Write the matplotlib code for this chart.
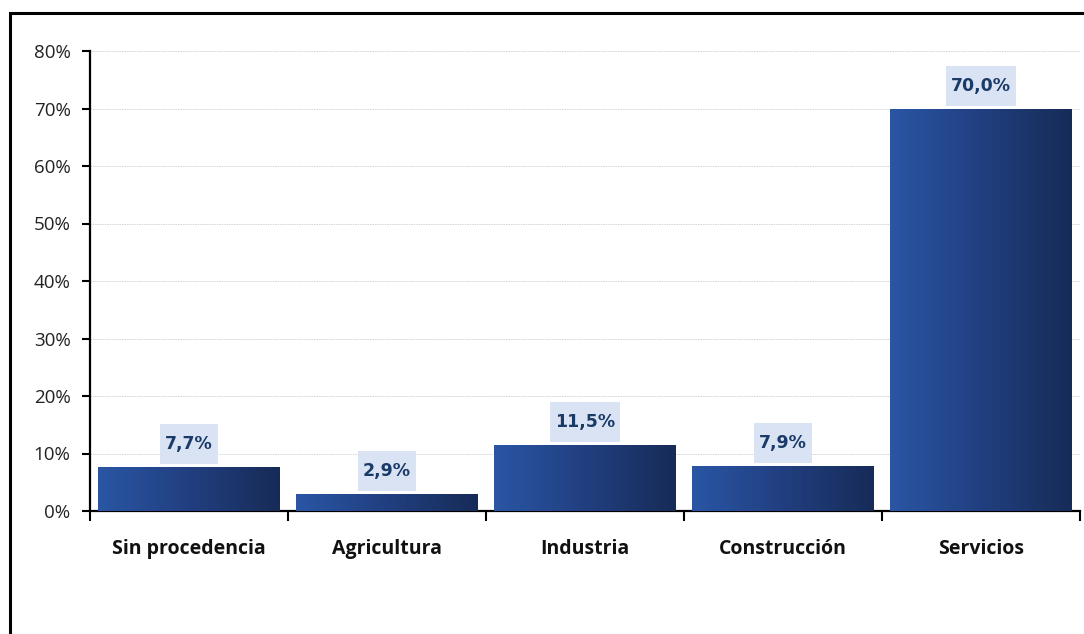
import matplotlib
matplotlib.use("Agg")
import matplotlib.pyplot as plt
import numpy as np
from matplotlib.patches import Rectangle
from matplotlib.colors import LinearSegmentedColormap
from matplotlib.transforms import IdentityTransform

categories = ["Sin procedencia", "Agricultura", "Industria", "Construcción", "Servicios"]
values = [7.7, 2.9, 11.5, 7.9, 70.0]
value_labels = ["7,7%", "2,9%", "11,5%", "7,9%", "70,0%"]
yticks = [0, 10, 20, 30, 40, 50, 60, 70, 80]
ytick_labels = ["0%", "10%", "20%", "30%", "40%", "50%", "60%", "70%", "80%"]

plt.rcParams['font.family'] = ['Open Sans', 'DejaVu Sans']

W, H = 1084, 634
fig = plt.figure(figsize=(W / 100, H / 100), dpi=100)
ax = fig.add_axes([90 / W, 1 - 511 / H, 990 / W, 460 / H])

# outer border (extends past right/bottom edges)
fig.add_artist(Rectangle((10 / W, -0.1), 1.2, 0.1 + 1 - 13 / H, transform=fig.transFigure,
                         fill=False, edgecolor='black', linewidth=2.2, zorder=0))

x = np.arange(len(categories))
bars = ax.bar(x, values, width=0.915, color='none', edgecolor='none', zorder=3)

cmap = LinearSegmentedColormap.from_list('g', ['#2a56a4', '#213f80', '#172b57'])
grad = np.linspace(0, 1, 256).reshape(1, -1)
for b in bars:
    x0, y0 = b.get_x(), b.get_y()
    w, h = b.get_width(), b.get_height()
    im = ax.imshow(grad, cmap=cmap, aspect='auto', extent=(x0, x0 + w, y0, y0 + h),
                   zorder=3, interpolation='bicubic')
    im.set_clip_path(b)

ax.set_xlim(-0.5, len(categories) - 0.5)
ax.set_ylim(0, 80)
ax.set_yticks(yticks)
ax.set_yticklabels(ytick_labels, fontsize=13.5, color='#222222')
ax.set_xticks(x)
ax.set_xticklabels(categories, fontsize=14, fontweight='bold', color='#111111')
ax.tick_params(axis='x', length=0, pad=20)
ax.set_xticks(np.arange(-0.5, len(categories)), minor=True)
ax.tick_params(axis='x', which='minor', length=7, width=1.5, direction='out')
ax.tick_params(axis='y', length=6, width=1.5, direction='out', pad=8)

ax.grid(axis='y', color='#d4d4d4', linestyle=(0, (1.5, 1)), linewidth=0.7, zorder=0)
ax.set_axisbelow(True)
for s in ['top', 'right']:
    ax.spines[s].set_visible(False)
for s in ['left', 'bottom']:
    ax.spines[s].set_linewidth(1.6)

texts = []
for xi, v, lab in zip(x, values, value_labels):
    t = ax.annotate(lab, (xi, v), xytext=(0, 23), textcoords='offset pixels',
                    ha='center', va='center', fontsize=12.5, fontweight='bold',
                    family=['DejaVu Sans'], color='#1a3a68', zorder=7)
    texts.append(t)

fig.canvas.draw()
r = fig.canvas.get_renderer()
for t in texts:
    bb = t.get_window_extent(r)
    cx = (bb.x0 + bb.x1) / 2
    cy = (bb.y0 + bb.y1) / 2
    bw = bb.width + 10
    bh = 40
    p = Rectangle((cx - bw / 2, cy - bh / 2), bw, bh, transform=IdentityTransform(),
                  facecolor='#dae3f3', edgecolor='none', zorder=5, clip_on=False)
    ax.add_artist(p)

fig.savefig('out.png', dpi=100)
